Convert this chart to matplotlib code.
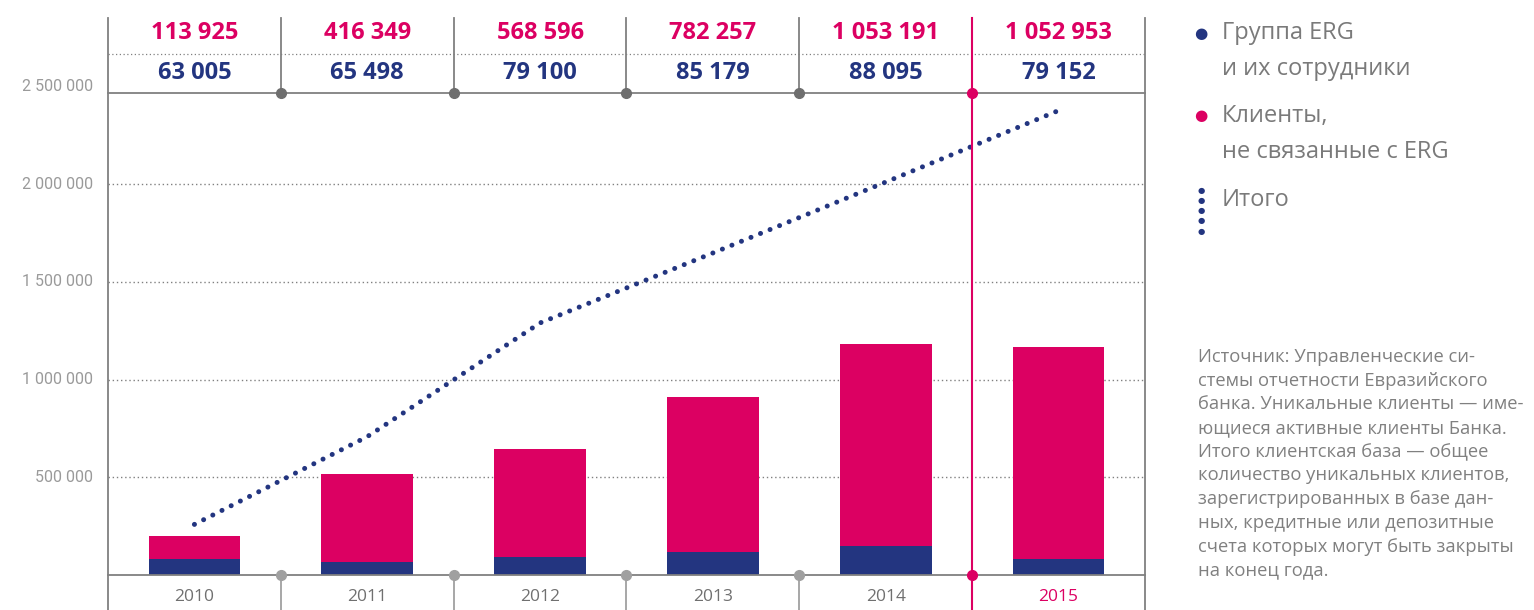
import matplotlib
matplotlib.use('Agg')
import matplotlib.pyplot as plt
import numpy as np

# ── data ──
years = ['2010', '2011', '2012', '2013', '2014', '2015']
erg_clients = [63005, 65498, 79100, 85179, 88095, 79152]          # table row (blue)
other_clients = [113925, 416349, 568596, 782257, 1053191, 1052953]  # table row (pink)

# bar segments as drawn
erg_bar = [82000, 66000, 90000, 120000, 150000, 80000]
other_bar = [118000, 451000, 555000, 790000, 1030000, 1085000]
total_line = [259000, 708000, 1290000, 1648000, 2011000, 2377000]

y_ticks = [500000, 1000000, 1500000, 2000000, 2500000]

legend_items = [['Группа ERG', 'и их сотрудники'], ['Клиенты,', 'не связанные с ERG'], ['Итого']]
note_lines = [
    'Источник: Управленческие си-',
    'стемы отчетности Евразийского',
    'банка. Уникальные клиенты — име-',
    'ющиеся активные клиенты Банка.',
    'Итого клиентская база — общее',
    'количество уникальных клиентов,',
    'зарегистрированных в базе дан-',
    'ных, кредитные или депозитные',
    'счета которых могут быть закрыты',
    'на конец года.',
]

PINK = '#dc0062'
BLUE = '#233580'
GRID = '#808080'
W, H = 1534, 610


def fmt(v):
    return f'{v:,}'.replace(',', ' ')


def fy(py):
    # figure fraction from pixel row
    return 1 - py / H


fig = plt.figure(figsize=(W / 100, H / 100), dpi=100)
ax = fig.add_axes([108 / W, (H - 575) / H, (1145 - 108) / W, (575 - 93) / H])
px_per_val = 97.7 / 500000
ax.set_ylim(0, (575 - 93) / px_per_val)
ax.set_xlim(-0.5, 5.5)
for s in ax.spines.values():
    s.set_visible(False)
ax.set_xticks([])
ax.set_yticks([])

x = np.arange(len(years))
tr = ax.get_xaxis_transform()
ax_top = (575 - 18) / (575 - 93)
ax_bot = -(610 - 575) / (575 - 93)

# gridlines
for v in y_ticks[:-1]:
    ax.axhline(v, color=GRID, lw=1.0, ls=(0, (1, 2)), zorder=1)
for v in y_ticks:
    ax.text(-0.0145, v, fmt(v), transform=ax.get_yaxis_transform(), ha='right', va='center',
            fontsize=11.5, color='#9a9a9a', family='Roboto', clip_on=False)

# bars
ax.bar(x, erg_bar, width=0.53, color=BLUE, zorder=2)
ax.bar(x, other_bar, width=0.53, bottom=erg_bar, color=PINK, zorder=2)

# total line (dotted)
ax.plot(x, total_line, color=BLUE, lw=3.6, ls=(0, (0.01, 2.05)), dash_capstyle='round', zorder=4)

# frame lines
ax.plot([-0.5, 5.5], [0, 0], transform=tr, color=GRID, lw=1.3, clip_on=False, zorder=3)
ax.plot([-0.5, 5.5], [1, 1], transform=tr, color=GRID, lw=1.3, clip_on=False, zorder=3)
dot_row = (575 - 54) / (575 - 93)
ax.plot([-0.5, 5.5], [dot_row, dot_row], transform=tr, color=GRID, lw=0.9, ls=(0, (1, 2)),
        clip_on=False)
for xe in (-0.5, 5.5):
    ax.plot([xe, xe], [ax_bot, ax_top], transform=tr, color=GRID, lw=1.3, clip_on=False, zorder=3)

for i in range(len(years) - 1):
    xs = i + 0.5
    if i == len(years) - 2:
        ax.plot([xs, xs], [ax_bot, ax_top], transform=tr, color=PINK, lw=1.5, clip_on=False, zorder=5)
        ax.plot([xs, xs], [0, 1], transform=tr, ls='none', marker='o', ms=7, color=PINK,
                clip_on=False, zorder=6)
    else:
        ax.plot([xs, xs], [1, ax_top], transform=tr, color=GRID, lw=1.3, clip_on=False)
        ax.plot([xs, xs], [ax_bot, 0], transform=tr, color='#a0a0a0', lw=1.3, clip_on=False)
        ax.plot([xs], [1], transform=tr, marker='o', ms=7, color='#6e6e6e', clip_on=False, zorder=6)
        ax.plot([xs], [0], transform=tr, marker='o', ms=7, color='#a0a0a0', clip_on=False, zorder=6)

# table numbers and years
row_pink = (575 - 33) / (575 - 93)
row_blue = (575 - 73) / (575 - 93)
row_year = -(597 - 575) / (575 - 93)
for i in x:
    ax.text(i, row_pink, fmt(other_clients[i]), transform=tr, ha='center', va='center',
            fontsize=17, fontweight='bold', color=PINK, family='Open Sans', clip_on=False)
    ax.text(i, row_blue, fmt(erg_clients[i]), transform=tr, ha='center', va='center',
            fontsize=17, fontweight='bold', color=BLUE, family='Open Sans', clip_on=False)
    ax.text(i, row_year, years[i], transform=tr, ha='center', va='center', fontsize=12.5,
            color=PINK if i == len(years) - 1 else '#707070', family='Open Sans', clip_on=False)

# legend
leg_x, txt_x = 1201 / W, 1222 / W
legend_rows = [(33, 36), (116, 36), (200, 0)]
for (py, step), lines, col in zip(legend_rows, legend_items, [BLUE, PINK, None]):
    if col is not None:
        fig.text(leg_x, fy(py), '●', color=col, fontsize=11, ha='center', va='center')
    for k, line in enumerate(lines):
        fig.text(txt_x, fy(py + k * step), line, color='#7a7a7a', fontsize=17,
                 family='Open Sans', va='center', ha='left')
for k in range(5):
    fig.text(leg_x, fy(190 + k * 10.3), '●', color=BLUE, fontsize=6, ha='center', va='center')

# note
for k, line in enumerate(note_lines):
    fig.text(1198 / W, fy(357 + k * 23.7), line, color='#808080', fontsize=13.2,
             family='Open Sans', va='center', ha='left')

fig.savefig('out.png', dpi=100, facecolor='white')
